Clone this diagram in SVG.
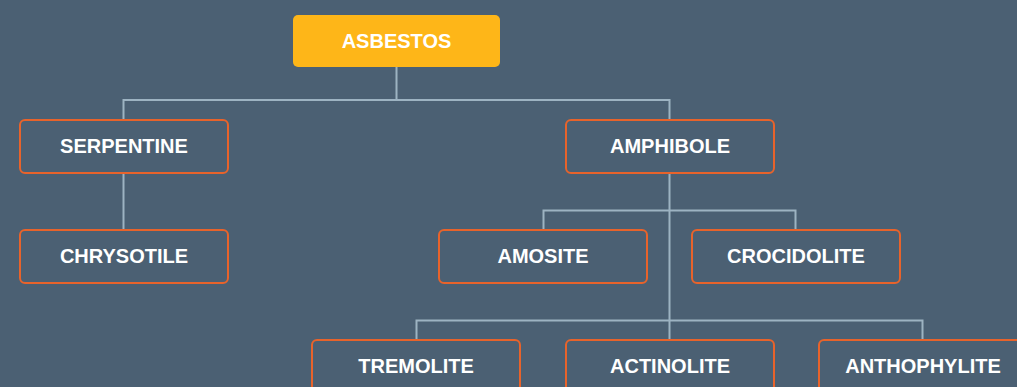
<svg xmlns="http://www.w3.org/2000/svg" width="1017" height="387" viewBox="0 0 1017 387">
<style>
.bg{fill:#4b6073}
.box{fill:#4b6073;stroke:#e8632b;stroke-width:2}
.root{fill:#feb618}
.lbl{font-family:"Liberation Sans",Arial,sans-serif;font-weight:bold;font-size:20px;fill:#ffffff;text-anchor:middle}
.con{fill:none;stroke:#9db3c2;stroke-width:2}
</style>
<rect class="bg" x="0" y="0" width="1017" height="387"/>
<g id="connectors">
<path class="con" d="M396.5 67V100M123.5 120V100H669.5V120"/>
<path class="con" d="M123.5 173V230"/>
<path class="con" d="M669.5 173V340M543.5 230V210.5H795.5V230M416.5 340V320.5H922.5V340"/>
</g>
<g id="asbestos"><rect class="root" x="293" y="15" width="207" height="52" rx="5"/><text class="lbl" x="396.5" y="47.5">ASBESTOS</text></g>
<g id="serpentine"><rect class="box" x="20" y="120" width="208" height="53" rx="5"/><text class="lbl" x="124" y="153">SERPENTINE</text></g>
<g id="chrysotile"><rect class="box" x="20" y="230" width="208" height="53" rx="5"/><text class="lbl" x="124" y="263">CHRYSOTILE</text></g>
<g id="amphibole"><rect class="box" x="566" y="120" width="208" height="53" rx="5"/><text class="lbl" x="670" y="153">AMPHIBOLE</text></g>
<g id="amosite"><rect class="box" x="439" y="230" width="208" height="53" rx="5"/><text class="lbl" x="543" y="263">AMOSITE</text></g>
<g id="crocidolite"><rect class="box" x="692" y="230" width="208" height="53" rx="5"/><text class="lbl" x="796" y="263">CROCIDOLITE</text></g>
<g id="tremolite"><rect class="box" x="312" y="340" width="208" height="53" rx="5"/><text class="lbl" x="416" y="373">TREMOLITE</text></g>
<g id="actinolite"><rect class="box" x="566" y="340" width="208" height="53" rx="5"/><text class="lbl" x="670" y="373">ACTINOLITE</text></g>
<g id="anthophylite"><rect class="box" x="819" y="340" width="208" height="53" rx="5"/><text class="lbl" x="923" y="373">ANTHOPHYLITE</text></g>
</svg>
